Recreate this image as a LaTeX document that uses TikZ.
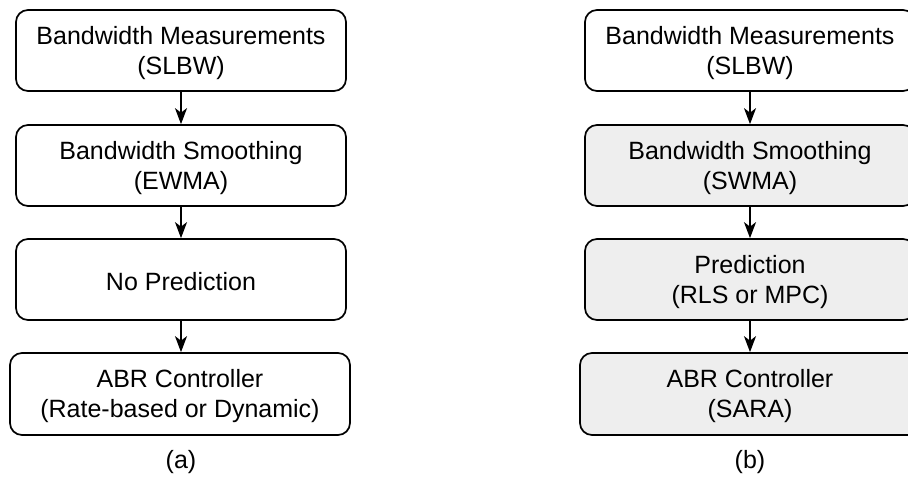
\documentclass[tikz,border=0pt]{standalone}
\usepackage{fontspec}
\setmainfont{Liberation Sans}
\usetikzlibrary{arrows.meta}
\definecolor{boxgray}{RGB}{238,238,238}
\tikzset{
  stage/.style={draw=black, line width=1.7pt, rounded corners=12pt, fill=white,
    minimum width=330pt, minimum height=81pt, inner sep=0pt},
  wide/.style={minimum width=340pt, minimum height=82pt},
  shaded/.style={fill=boxgray},
  txt/.style={align=center, inner sep=0pt, yshift=-2.5pt,
    font=\fontsize{25}{30}\selectfont},
  flow/.style={line width=1.7pt, -{Stealth[length=16pt,width=12pt,inset=4.5pt]}},
  caption/.style={font=\fontsize{25}{30}\selectfont, inner sep=0pt}
}
\begin{document}
\begin{tikzpicture}[x=1pt,y=-1pt]
\useasboundingbox (0,0) rectangle (908,479);
% left pipeline (a)
\node[stage, label={[txt]center:{Bandwidth Measurements\\(SLBW)}}] (a1) at (181,50.5) {};
\node[stage, label={[txt]center:{Bandwidth Smoothing\\(EWMA)}}] (a2) at (181,165.5) {};
\node[stage, label={[txt]center:{No Prediction}}] (a3) at (181,279.5) {};
\node[stage, wide, label={[txt]center:{ABR Controller\\(Rate-based or Dynamic)}}] (a4) at (180,394) {};
\draw[flow] (a1) -- (a2);
\draw[flow] (a2) -- (a3);
\draw[flow] (a3.south -| a1) -- (a4.north -| a1);
\node[caption] (ca) at (181,462) {(a)};
% right pipeline (b)
\node[stage, label={[txt]center:{Bandwidth Measurements\\(SLBW)}}] (b1) at (750,50.5) {};
\node[stage, shaded, label={[txt]center:{Bandwidth Smoothing\\(SWMA)}}] (b2) at (750,165.5) {};
\node[stage, shaded, label={[txt]center:{Prediction\\(RLS or MPC)}}] (b3) at (750,279.5) {};
\node[stage, wide, shaded, label={[txt]center:{ABR Controller\\(SARA)}}] (b4) at (750,394) {};
\draw[flow] (b1) -- (b2);
\draw[flow] (b2) -- (b3);
\draw[flow] (b3) -- (b4);
\node[caption] (cb) at (750,462) {(b)};
\end{tikzpicture}
\end{document}
